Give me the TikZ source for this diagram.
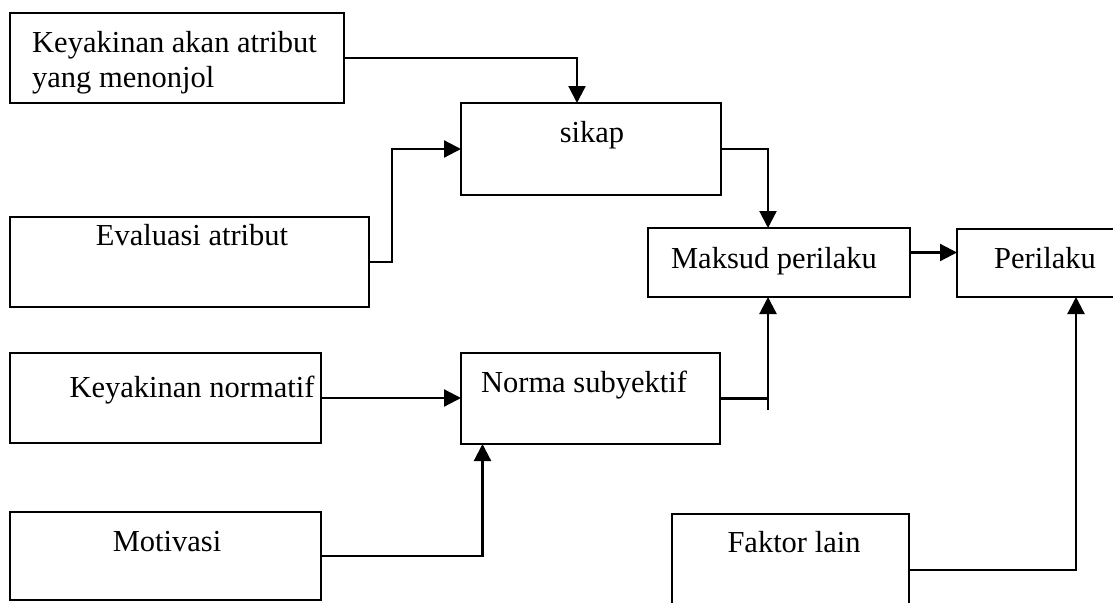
\documentclass[tikz,border=0pt]{standalone}
\usepackage{fontspec}
\setmainfont{Liberation Serif}
\usetikzlibrary{arrows.meta,calc}
\begin{document}
\begin{tikzpicture}[x=1pt,y=-1pt,
  box/.style={draw,rectangle,inner sep=0pt,outer sep=0pt,line width=2.2pt,anchor=north west},
  lbl/.style={font=\fontsize{30.5}{35}\selectfont,inner sep=0pt,anchor=base},
  conn/.style={line width=2.2pt},
  arr/.style={line width=2.2pt,-{Triangle[length=17pt,width=17pt]}}]
\useasboundingbox (0,0) rectangle (1113,602);
\clip (0,0) rectangle (1113,602);
% boxes
\node[box,minimum width=334pt,minimum height=90pt] (kaa) at (10,13) {};
\node[box,minimum width=260pt,minimum height=92pt] (sikap) at (461,103) {};
\node[box,minimum width=359pt,minimum height=90pt] (eval) at (10,217) {};
\node[box,minimum width=262pt,minimum height=69pt] (maksud) at (648,228) {};
\node[box,minimum width=238pt,minimum height=68pt] (perilaku) at (957,229) {};
\node[box,minimum width=311pt,minimum height=90pt] (kn) at (10,353) {};
\node[box,minimum width=259pt,minimum height=91pt] (norma) at (461,353) {};
\node[box,minimum width=311pt,minimum height=88pt] (motiv) at (10,512) {};
\node[box,minimum width=237pt,minimum height=112pt] (faktor) at (672,514) {};
% texts
\node[lbl,anchor=north west,align=left,font=\fontsize{30.5}{35}\selectfont] (tkaa) at (32,31) {Keyakinan akan atribut\\yang menonjol};
\node[lbl] (tsikap) at (592,142) {sikap};
\node[lbl] (teval) at (192,245) {Evaluasi atribut};
\node[lbl] (tkn) at (192,397) {Keyakinan normatif};
\node[lbl] (tnorma) at (584,392) {Norma subyektif};
\node[lbl] (tmaksud) at (774,268) {Maksud perilaku};
\node[lbl] (tperilaku) at (1045,268) {Perilaku};
\node[lbl] (tmotiv) at (167,551) {Motivasi};
\node[lbl] (tfaktor) at (794,552) {Faktor lain};
% connectors
\draw[arr] (kaa.east) -| ([xshift=-14pt]sikap.north);
\draw[arr] (eval.east) -- ++(23,0) |- (sikap.west);
\draw[arr] (sikap.east) -| ([xshift=-11pt]maksud.north);
\draw[arr] ([yshift=10pt]maksud.east) -- ([yshift=10pt]maksud.east -| perilaku.west);
\draw[arr] (kn.east) -- (kn.east -| norma.west);
\coordinate (tee) at (768,410);
\draw[conn] (norma.east) -- (norma.east -| tee);
\draw[arr] (tee) -- (tee |- maksud.south);
\draw[arr] (motiv.east) -| ([xshift=-108pt]norma.south);
\draw[arr] (faktor.east) -| (perilaku.south);
\end{tikzpicture}
\end{document}
